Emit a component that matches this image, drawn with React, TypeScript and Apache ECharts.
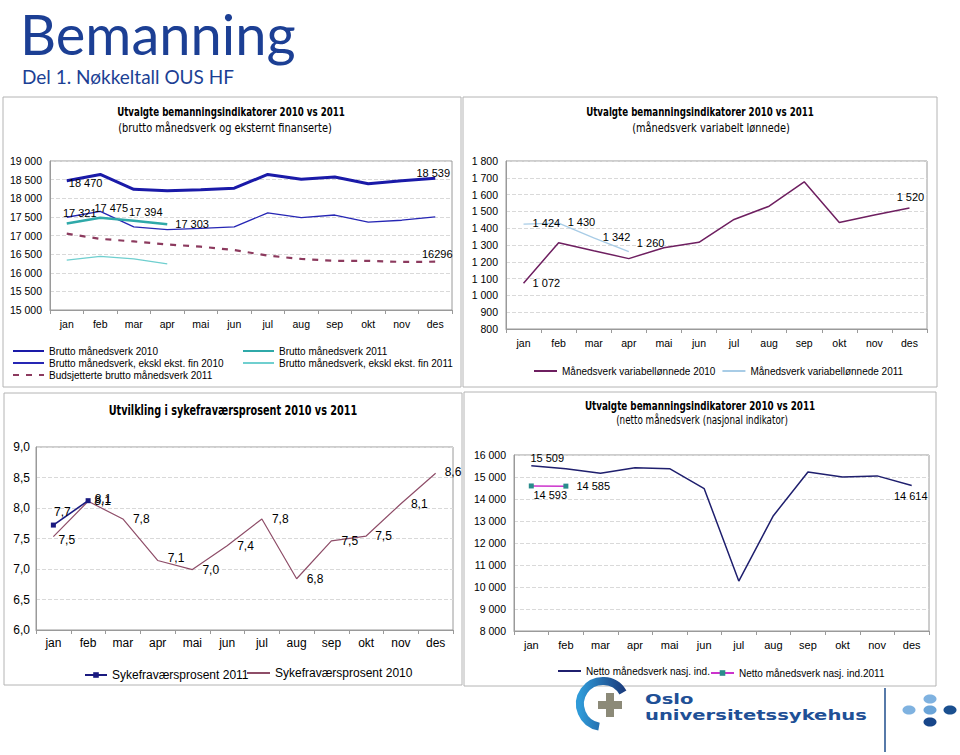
import React, { useEffect, useRef } from 'react';
import * as echarts from 'echarts';

// ---------- data ----------
const months = ['jan', 'feb', 'mar', 'apr', 'mai', 'jun', 'jul', 'aug', 'sep', 'okt', 'nov', 'des'];

// Panel 1: brutto månedsverk
const brutto2010 = [18470, 18640, 18240, 18200, 18230, 18270, 18640, 18510, 18570, 18390, 18470, 18539];
const eksklFin2010 = [17490, 17650, 17230, 17160, 17190, 17230, 17610, 17480, 17550, 17360, 17410, 17500];
const brutto2011 = [17321, 17475, 17394, 17303];
const eksklFin2011 = [16340, 16440, 16370, 16240];
const budsjett2011 = [17050, 16910, 16840, 16760, 16700, 16610, 16460, 16370, 16320, 16320, 16290, 16296];

// Panel 2: variabelt lønnede
const variabel2010 = [1072, 1314, 1266, 1219, 1284, 1316, 1452, 1531, 1676, 1434, 1478, 1520];
const variabel2011 = [1424, 1430, 1342, 1260];

// Panel 3: sykefravær
const syke2011 = [7.72, 8.12];
const syke2010 = [7.53, 8.11, 7.82, 7.14, 6.99, 7.38, 7.82, 6.84, 7.46, 7.54, 8.07, 8.57];

// Panel 4: netto månedsverk
const netto2010 = [15509, 15380, 15170, 15420, 15380, 14470, 10270, 13240, 15230, 15000, 15050, 14614];
const netto2011 = [14593, 14585];

// ---------- helpers ----------
const FONT = '"Liberation Sans", Arial, sans-serif';
const NARROW = '"Liberation Sans Narrow", "DejaVu Sans Condensed", "Liberation Sans", sans-serif';
const sp = (v: number) => String(Math.round(v)).replace(/\B(?=(\d{3})+(?!\d))/g, ' ');
const dec = (v: number) => v.toFixed(1).replace('.', ',');
const raw = (v: number) => String(v);

type LSpec = [string, number, number];
function withLabels(values: number[], spec: Record<number, LSpec>, fmt: (v: number) => string, fontSize: number) {
  return values.map((v, i) => {
    const s = spec[i];
    if (!s) return v;
    return {
      value: v,
      label: {
        show: true, position: s[0], offset: [s[1], s[2]], formatter: fmt(v),
        fontSize, color: '#000', fontFamily: FONT,
      },
    };
  });
}

function line(name: string, data: any[], idx: number, color: string, width: number, extra: any = {}) {
  return {
    type: 'line', name, data, xAxisIndex: idx, yAxisIndex: idx,
    symbol: 'circle', symbolSize: 0.1, showSymbol: true,
    itemStyle: { color }, lineStyle: { color, width },
    label: { show: false }, emphasis: { disabled: true }, silent: true,
    ...extra,
  };
}

const AX = '#9a9a9a';
function xAxis(gi: number, margin: number, fontSize: number) {
  return {
    type: 'category', gridIndex: gi, data: months, boundaryGap: true,
    axisLine: { show: true, lineStyle: { color: AX } },
    axisTick: { show: true, length: 4, lineStyle: { color: AX } },
    axisLabel: { color: '#000', fontSize, fontFamily: FONT, margin, interval: 0 },
    splitLine: { show: false },
  };
}
function yAxis(gi: number, min: number, max: number, interval: number, fmt: (v: number) => string, fontSize: number, margin: number) {
  return {
    type: 'value', gridIndex: gi, min, max, interval,
    axisLine: { show: true, lineStyle: { color: AX } },
    axisTick: { show: false },
    axisLabel: { color: '#000', fontSize, fontFamily: FONT, margin, formatter: fmt },
    splitLine: { show: true, lineStyle: { color: '#d9d9d9', type: 'dashed' } },
  };
}

function txt(text: string, x: number, y: number, fontSize: number, opts: any = {}) {
  return {
    type: 'text', x, y, silent: true, scaleX: opts.scaleX || 1,
    style: {
      text, fontSize, fontFamily: opts.fontFamily || FONT, fontWeight: opts.fontWeight || 'normal',
      fill: opts.fill || '#000', align: opts.align || 'center', verticalAlign: 'middle',
    },
  };
}
function box(x: number, y: number, w: number, h: number) {
  return { type: 'rect', shape: { x, y, width: w, height: h }, silent: true, style: { fill: 'none', stroke: '#b4b4b4', lineWidth: 1 } };
}

const legendText = (fontSize: number) => ({ fontSize, color: '#000', fontFamily: FONT });

export default function App() {
  const ref = useRef<HTMLDivElement>(null);
  useEffect(() => {
    if (!ref.current) return;
    const chart = echarts.init(ref.current, null, { renderer: 'svg' });
    const BLUE = '#1c3f94';
    const LOGO = '"DejaVu Sans", sans-serif';
    const option: any = {
      animation: false,
      backgroundColor: '#fff',
      textStyle: { fontFamily: FONT },
      grid: [
        { left: 50, top: 161, width: 402, height: 149, show: true, borderColor: AX, borderWidth: 1 },
        { left: 506, top: 161, width: 421, height: 168, show: true, borderColor: AX, borderWidth: 1 },
        { left: 36, top: 447, width: 417, height: 183, show: true, borderColor: AX, borderWidth: 1 },
        { left: 514, top: 455, width: 415, height: 176, show: true, borderColor: AX, borderWidth: 1 },
      ],
      xAxis: [xAxis(0, 8, 10.5), xAxis(1, 8, 10.5), xAxis(2, 7, 12), xAxis(3, 8, 11)],
      yAxis: [
        yAxis(0, 15000, 19000, 500, sp, 10.5, 8),
        yAxis(1, 800, 1800, 100, sp, 10.5, 8),
        yAxis(2, 6, 9, 0.5, dec, 12, 6),
        yAxis(3, 8000, 16000, 1000, sp, 10.5, 8),
      ],
      legend: [
        {
          left: 12, top: 346, orient: 'vertical', itemWidth: 31, itemHeight: 11, itemGap: 2, padding: 0,
          selectedMode: false, textStyle: legendText(10), itemStyle: { opacity: 0 },
          data: ['Brutto månedsverk 2010', 'Brutto månedsverk, ekskl ekst. fin 2010', 'Budsjetterte brutto månedsverk 2011'],
        },
        {
          left: 242, top: 346, orient: 'vertical', itemWidth: 31, itemHeight: 11, itemGap: 2, padding: 0,
          selectedMode: false, textStyle: legendText(10), itemStyle: { opacity: 0 },
          data: ['Brutto månedsverk 2011', 'Brutto månedsverk, ekskl ekst. fin 2011'],
        },
        {
          left: 533, top: 366, itemWidth: 23, itemHeight: 11, itemGap: 6, padding: 0,
          selectedMode: false, textStyle: legendText(10), itemStyle: { opacity: 0 },
          data: ['Månedsverk variabellønnede 2010', 'Månedsverk variabellønnede 2011'],
        },
        {
          left: 84, top: 669, itemWidth: 22, itemHeight: 7, itemGap: 4, padding: 0,
          selectedMode: false, textStyle: legendText(12),
          data: ['Sykefraværsprosent 2011'],
        },
        {
          left: 246, top: 667, itemWidth: 23, itemHeight: 11, itemGap: 4, padding: 0,
          selectedMode: false, textStyle: legendText(12), itemStyle: { opacity: 0 },
          data: ['Sykefraværsprosent 2010'],
        },
        {
          left: 557, top: 666, itemWidth: 23, itemHeight: 11, itemGap: 4, padding: 0,
          selectedMode: false, textStyle: legendText(10), itemStyle: { opacity: 0 },
          data: ['Netto månedsverk nasj. ind.'],
        },
        {
          left: 710, top: 668, itemWidth: 23, itemHeight: 7, itemGap: 4, padding: 0,
          selectedMode: false, textStyle: legendText(10),
          data: ['Netto månedsverk nasj. ind.2011'],
        },
      ],
      series: [
        // Panel 1
        line('Budsjetterte brutto månedsverk 2011', withLabels(budsjett2011, { 11: ['top', 2, 3] }, raw, 11), 0, '#8c3a5e', 2.2,
          { lineStyle: { color: '#8c3a5e', width: 2.2, type: [6, 7] } }),
        line('Brutto månedsverk, ekskl ekst. fin 2011', eksklFin2011, 0, '#6fcfcf', 1.2),
        line('Brutto månedsverk, ekskl ekst. fin 2010', eksklFin2010, 0, '#2626b4', 1.3),
        line('Brutto månedsverk 2011', withLabels(brutto2011, { 0: ['top', 13, 0], 1: ['top', 11, 1], 2: ['top', 12, 2], 3: ['right', 3, 0] }, sp, 11), 0, '#2fa9a9', 2.6),
        line('Brutto månedsverk 2010', withLabels(brutto2010, { 0: ['right', -3, 2], 11: ['top', -2, 5] }, sp, 11), 0, '#1a1aa8', 3),
        // Panel 2
        line('Månedsverk variabellønnede 2010', withLabels(variabel2010, { 0: ['right', 4, 0], 11: ['top', 1, 0] }, sp, 11), 1, '#6e1f60', 1.5),
        line('Månedsverk variabellønnede 2011', withLabels(variabel2011, { 0: ['right', 4, -1], 1: ['right', 4, -1], 2: ['right', 4, -1], 3: ['right', 3, -9] }, sp, 11), 1, '#a8cce6', 1.3),
        // Panel 3
        line('Sykefraværsprosent 2010', withLabels(syke2010, {
          0: ['right', 0, 3], 1: ['right', 1, 0], 2: ['right', 5, 0], 3: ['right', 5, -2], 4: ['right', 5, 0], 5: ['right', 5, 0],
          6: ['right', 5, 0], 7: ['right', 5, 0], 8: ['right', 5, 0], 9: ['right', 4, 0], 10: ['right', 5, 0], 11: ['right', 4, -1],
        }, dec, 12), 2, '#8e4d68', 1.2),
        line('Sykefraværsprosent 2011', withLabels(syke2011, { 0: ['top', 9, 0], 1: ['right', -1, -2] }, dec, 12), 2, '#1a1a80', 1.6,
          { symbol: 'rect', symbolSize: 5 }),
        // Panel 4
        line('Netto månedsverk nasj. ind.', withLabels(netto2010, { 0: ['top', 16, 3], 11: ['bottom', -1, 0] }, sp, 11), 3, '#1f1f6e', 1.5),
        line('Netto månedsverk nasj. ind.2011', withLabels(netto2011, { 0: ['bottom', 19, -4], 1: ['right', 3, 0] }, sp, 11), 3, '#cc33cc', 1.5,
          { symbol: 'rect', symbolSize: 5, itemStyle: { color: '#2a8c8c' } }),
      ],
      graphic: {
        elements: [
          box(3, 97, 458, 290),
          box(463, 97, 474, 290),
          box(4, 393, 458, 292),
          box(464, 392, 472, 294),
          txt('Bemanning', 20, 33, 56, { align: 'left', fill: BLUE, fontFamily: 'Lato, "Open Sans", sans-serif' }),
          txt('Del 1. Nøkkeltall OUS HF', 22, 76, 19, { align: 'left', fill: BLUE, fontFamily: 'Lato, "Open Sans", sans-serif' }),
          txt('Utvalgte bemanningsindikatorer 2010 vs 2011', 231, 112, 11.5, { fontWeight: 'bold', fontFamily: NARROW, scaleX: 0.84 }),
          txt('(brutto månedsverk og eksternt finanserte)', 225, 128, 11.5, { fontFamily: NARROW, scaleX: 0.95 }),
          txt('Utvalgte bemanningsindikatorer 2010 vs 2011', 700, 112, 11.5, { fontWeight: 'bold', fontFamily: NARROW, scaleX: 0.84 }),
          txt('(månedsverk variabelt lønnede)', 711, 128, 11.5, { fontFamily: NARROW, scaleX: 0.95 }),
          txt('Utvilkling i sykefraværsprosent 2010 vs 2011', 233, 411, 13.5, { fontWeight: 'bold', fontFamily: NARROW, scaleX: 0.8 }),
          txt('Utvalgte bemanningsindikatorer 2010 vs 2011', 700, 406, 11.5, { fontWeight: 'bold', fontFamily: NARROW, scaleX: 0.85 }),
          txt('(netto månedsverk (nasjonal indikator)', 702, 420, 11.5, { fontFamily: NARROW, scaleX: 0.85 }),
          // logo
          {
            type: 'arc', silent: true,
            shape: { cx: 603, cy: 704, r: 23, startAngle: (100 * Math.PI) / 180, endAngle: (330 * Math.PI) / 180, clockwise: true },
            style: {
              fill: 'none', lineWidth: 8,
              stroke: new echarts.graphic.LinearGradient(0, 0, 1, 0, [
                { offset: 0, color: '#2f9ad8' }, { offset: 1, color: '#1b3f80' },
              ]),
            },
          },
          { type: 'rect', silent: true, shape: { x: 598, y: 701, width: 24, height: 8 }, style: { fill: '#8c8a78' } },
          { type: 'rect', silent: true, shape: { x: 606, y: 693, width: 8, height: 24 }, style: { fill: '#8c8a78' } },
          txt('Oslo', 645, 699, 14.5, { align: 'left', fill: '#1f5096', fontWeight: 'bold', fontFamily: LOGO, scaleX: 1.35 }),
          txt('universitetssykehus', 645, 714.5, 14.5, { align: 'left', fill: '#1f5096', fontWeight: 'bold', fontFamily: LOGO, scaleX: 1.35 }),
          { type: 'line', silent: true, shape: { x1: 885, y1: 688, x2: 885, y2: 752 }, style: { stroke: '#1f4e8c', lineWidth: 1.5 } },
          { type: 'ellipse', silent: true, shape: { cx: 930, cy: 699, rx: 6.5, ry: 4.5 }, style: { fill: '#7fb2e0' } },
          { type: 'ellipse', silent: true, shape: { cx: 909, cy: 710, rx: 6.5, ry: 4.5 }, style: { fill: '#7fb2e0' } },
          { type: 'ellipse', silent: true, shape: { cx: 930, cy: 710, rx: 6.5, ry: 4.5 }, style: { fill: '#6aa4d8' } },
          { type: 'ellipse', silent: true, shape: { cx: 950, cy: 710, rx: 6.5, ry: 4.5 }, style: { fill: '#1a4f8f' } },
          { type: 'ellipse', silent: true, shape: { cx: 930, cy: 722, rx: 6.5, ry: 4.5 }, style: { fill: '#17468a' } },
        ],
      },
    };
    chart.setOption(option);
    return () => chart.dispose();
  }, []);
  return (
    <div
      ref={ref}
      style={{ position: 'absolute', left: 0, top: 0, width: 960, height: 755, background: '#fff' }}
    />
  );
}
